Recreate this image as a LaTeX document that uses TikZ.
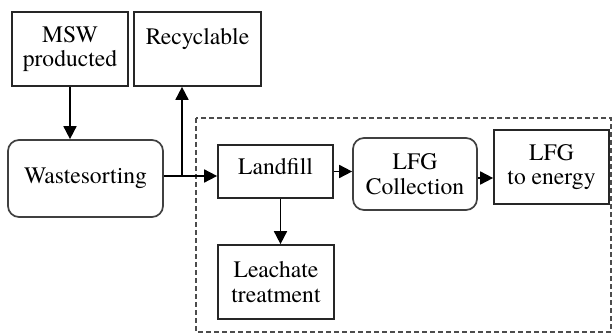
\documentclass[tikz,border=0pt]{standalone}
\usepackage{fontspec}
\setmainfont{texgyretermes-regular.otf}
\usetikzlibrary{arrows.meta}
\begin{document}
\begin{tikzpicture}[x=1pt,y=-1pt,
  box/.style={draw=black!85,line width=1.7pt,inner sep=0pt,align=center,
    font=\rmfamily\fontsize{23.6}{24.5}\selectfont},
  rbox/.style={box,rounded corners=11pt,draw=black!75},
  arr/.style={line width=1.7pt,-{Triangle[length=13pt,width=13pt]}},
  group/.style={draw=black!70,line width=1.2pt,dash pattern=on 5pt off 3pt}]
\useasboundingbox[fill=white] (0,0) rectangle (613,334);
\draw[group] (196,118) rectangle (611,332);
\node[box,minimum width=116pt,minimum height=74pt] (msw) at (70,49) {MSW\\producted};
\node[box,minimum width=127pt,minimum height=74pt] (rec) at (197.5,49) {Recyclable\\\phantom{X}};
\node[rbox,minimum width=155pt,minimum height=77pt] (waste) at (85.5,178.5) {Wastesorting};
\node[box,minimum width=115pt,minimum height=53pt] (land) at (275.5,171.5) {Landfill\\[-14pt]\phantom{X}};
\node[box,minimum width=116pt,minimum height=74pt] (leach) at (276,282) {Leachate\\treatment};
\node[rbox,minimum width=124pt,minimum height=72pt] (coll) at (415,174) {LFG\\Collection};
\node[box,minimum width=115pt,minimum height=74pt] (energy) at (551.5,167) {LFG\\to energy};
\coordinate (j) at (182,176);
\coordinate (ce) at ([yshift=-4pt]coll.east);
\draw[arr] (msw.south) -- (msw.south |- waste.north);
\draw[line width=1.7pt] (waste.east |- j) -- (j);
\draw[arr] (j) -- (land.west |- j);
\draw[arr] (j) -- (j |- rec.south);
\draw[arr] ([xshift=5pt]land.south) -- ([xshift=5pt]land.south |- leach.north);
\draw[arr] (land.east) -- (coll.west |- land.east);
\draw[arr] (ce) -- (energy.west |- ce);
\end{tikzpicture}
\end{document}
